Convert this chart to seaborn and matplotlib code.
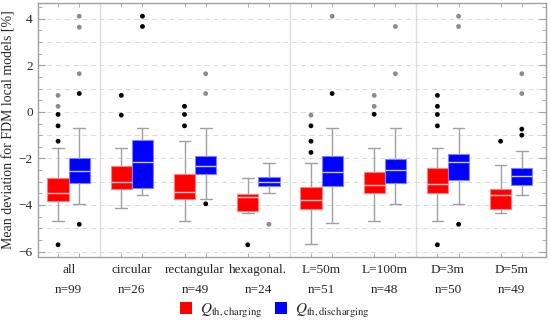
import numpy as np
import pandas as pd
import matplotlib
matplotlib.use("Agg")
import matplotlib.pyplot as plt
import seaborn as sns
from matplotlib.patches import Patch
from matplotlib.ticker import MultipleLocator, FixedLocator

# Groups and sample sizes
groups = ["all", "circular", "rectangular", "hexagonal.", "L=50m", "L=100m", "D=3m", "D=5m"]
counts = [99, 26, 49, 24, 51, 48, 50, 49]

# Q_th,charging (red) box statistics
chg_whishi = [-1.54, -1.54, -1.26, -2.86, -2.19, -1.54, -1.54, -2.28]
chg_q3 = [-2.86, -2.31, -2.68, -3.53, -3.21, -2.60, -2.40, -3.33]
chg_med = [-3.47, -3.03, -3.46, -3.67, -3.80, -3.14, -3.11, -3.57]
chg_q1 = [-3.83, -3.33, -3.76, -4.24, -4.18, -3.50, -3.50, -4.18]
chg_whislo = [-4.71, -4.11, -4.71, -4.33, -5.67, -4.71, -4.71, -4.36]
chg_near = [[-0.11, -0.60, -1.26, -5.71], [0.71, -0.14], [0.24, -0.11, -0.60], [-5.71],
            [-0.60, -1.26, -1.74], [-0.10], [0.71, 0.24, -0.11, -0.60, -5.71], [-1.26]]
chg_far = [[0.71, 0.24], [], [], [], [-0.14], [0.71, 0.24], [], []]

# Q_th,discharging (blue) box statistics
dis_whishi = [-0.69, -0.71, -0.69, -2.19, -0.69, -0.71, -0.69, -1.68]
dis_q3 = [-1.97, -1.21, -1.89, -2.78, -1.89, -2.04, -1.83, -2.43]
dis_med = [-2.53, -2.17, -2.33, -3.03, -2.57, -2.50, -2.14, -2.74]
dis_q1 = [-3.07, -3.26, -2.67, -3.20, -3.17, -3.04, -2.93, -3.14]
dis_whislo = [-3.95, -3.57, -3.76, -3.47, -4.79, -3.95, -3.95, -3.57]
dis_near = [[0.79, -4.83], [4.11, 3.67], [-3.95], [], [0.79], [], [-4.83], [-0.74, -1.00]]
dis_far = [[4.11, 3.64, 1.64], [], [1.64, 0.79], [-4.83], [4.11], [3.67, 1.64], [4.11, 3.67], [1.64, 0.79]]

sns.set_style("ticks")
plt.rcParams["font.family"] = ["Liberation Serif", "DejaVu Serif"]
plt.rcParams["mathtext.fontset"] = "stix"
plt.rcParams["font.size"] = 9.5

fig = plt.figure(figsize=(5.5, 3.22), dpi=100)
ax = fig.add_axes([0.0685, 0.203, 0.9242, 0.787])

width = 0.335
offset = width / 2
xs = np.arange(len(groups))
frame = "#a0a0a0"


def draw_boxes(q1, med, q3, lo, hi, pos, face, edge, medc):
    stats = []
    for i in range(len(groups)):
        stats.append(dict(q1=q1[i], med=med[i], q3=q3[i], whislo=lo[i], whishi=hi[i], fliers=[]))
    ax.bxp(stats, positions=pos, widths=width, patch_artist=True, showfliers=False,
           capwidths=0.55 * width,
           boxprops=dict(facecolor=face, edgecolor=edge, linewidth=0.8),
           medianprops=dict(color=medc, linewidth=1.0),
           whiskerprops=dict(color="#a0a0a0", linewidth=1.0),
           capprops=dict(color="#a0a0a0", linewidth=1.0), zorder=3)


# grid and separators
for v in range(-6, 5):
    ax.axhline(v, color="#d9d9d9", lw=0.7, ls=(0, (5, 4)), zorder=0)
for s in [0.5, 3.5, 5.5]:
    ax.axvline(s, color="#dcdcdc", lw=1.0, zorder=0)

draw_boxes(chg_q1, chg_med, chg_q3, chg_whislo, chg_whishi, xs - offset, "#ff0000", "#ff8080", "#ffc8c8")
draw_boxes(dis_q1, dis_med, dis_q3, dis_whislo, dis_whishi, xs + offset, "#0000ff", "#8080ff", "#c8c8ff")

# outliers
rows = []
for i in range(len(groups)):
    for v in chg_near[i]:
        rows.append((xs[i] - offset, v, "near"))
    for v in chg_far[i]:
        rows.append((xs[i] - offset, v, "far"))
    for v in dis_near[i]:
        rows.append((xs[i] + offset, v, "near"))
    for v in dis_far[i]:
        rows.append((xs[i] + offset, v, "far"))
fl = pd.DataFrame(rows, columns=["x", "value", "kind"])
sns.scatterplot(data=fl, x="x", y="value", hue="kind",
                palette={"near": "black", "far": "#8c8c8c"},
                s=12, linewidth=0, legend=False, ax=ax, zorder=4)

ax.set_xlim(-0.49, 7.55)
ax.set_ylim(-6.22, 4.67)

ax.set_xticks(xs)
ax.set_xticklabels([f"{g}\n\nn={n}" for g, n in zip(groups, counts)], linespacing=0.82)
ax.xaxis.set_minor_locator(FixedLocator(np.concatenate([xs - offset, xs + offset])))
ax.yaxis.set_major_locator(MultipleLocator(2))
ax.yaxis.set_minor_locator(MultipleLocator(0.5))
ax.yaxis.set_major_formatter(plt.FuncFormatter(lambda v, p: f"{v:.0f}".replace("-", "\u2212")))
ax.tick_params(axis="x", which="major", length=0, pad=5)
ax.tick_params(axis="both", which="minor", direction="in", length=3, color=frame,
               top=True, bottom=True, left=True, right=True)
ax.tick_params(axis="y", which="major", direction="in", length=5, color=frame, right=True)
ax.set_xlabel("")
ax.set_ylabel("Mean deviation for FDM local models [%]", fontsize=10, labelpad=2)
for sp in ax.spines.values():
    sp.set_visible(True)
    sp.set_color(frame)
    sp.set_linewidth(1.0)

handles = [Patch(facecolor="#ff0000", edgecolor="none", label=r"$Q_{\mathrm{th,charging}}$"),
           Patch(facecolor="#0000ff", edgecolor="none", label=r"$Q_{\mathrm{th,discharging}}$")]
fig.legend(handles=handles, loc="center", bbox_to_anchor=(0.5, 0.035), ncol=2, frameon=False,
           handlelength=0.8, handleheight=0.8, handletextpad=0.5, columnspacing=0.8, fontsize=11)

fig.savefig("out.png", dpi=100)
